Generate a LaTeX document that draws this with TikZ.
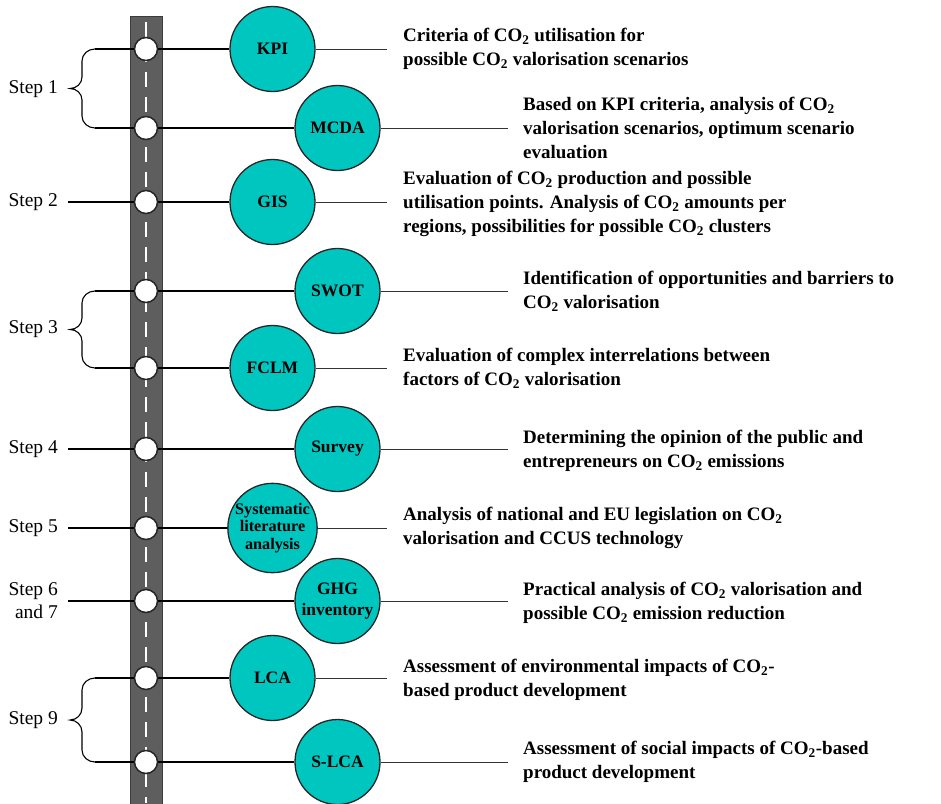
\documentclass[tikz,border=0pt]{standalone}
\usepackage{fontspec}
\setmainfont{Liberation Serif}
\usetikzlibrary{positioning}
\definecolor{tealfill}{RGB}{0,198,192}
\definecolor{roadgray}{RGB}{94,94,94}
\definecolor{roadedge}{RGB}{60,60,60}
\newcommand{\COtwo}{CO\textsubscript{2}}

\begin{document}
\begin{tikzpicture}[x=1pt,y=-1pt]
  \tikzstyle{tool}=[circle,draw=black!85,line width=1.3pt,fill=tealfill,minimum size=85pt,inner sep=0pt,align=center,font=\bfseries\fontsize{17.5}{21}\selectfont]
  \tikzstyle{stop}=[circle,draw=black!85,line width=1.5pt,fill=white,minimum size=23pt,inner sep=0pt]
  \tikzstyle{desc}=[anchor=west,align=left,inner sep=0pt,font=\bfseries\fontsize{19}{23.8}\selectfont]
  \tikzstyle{steplbl}=[anchor=east,align=right,inner sep=0pt,font=\fontsize{19.5}{23}\selectfont]
  \tikzstyle{conn}=[line width=2pt]
  \tikzstyle{lead}=[line width=0.9pt,draw=black!80]
  \tikzstyle{brace}=[line width=1.1pt]
  \useasboundingbox (0,0) rectangle (941,803);
  % road
  \fill[roadgray,draw=roadedge,line width=1pt] (130,16) rectangle (162,806);
  \draw[white,line width=1.6pt,dash pattern=on 15pt off 10pt] (146,22) -- (146,803);
  % stops on the road
  \node[stop] (s1) at (146,49) {};
  \node[stop] (s2) at (146,128) {};
  \node[stop] (s3) at (146,202) {};
  \node[stop] (s4) at (146,291) {};
  \node[stop] (s5) at (146,368) {};
  \node[stop] (s6) at (146,449) {};
  \node[stop] (s7) at (146,528) {};
  \node[stop] (s8) at (146,601) {};
  \node[stop] (s9) at (146,678) {};
  \node[stop] (s10) at (146,762) {};
  % methods
  \node[tool] (kpi) at (272.5,49) {KPI};
  \node[tool] (mcda) at (337.5,128) {MCDA};
  \node[tool] (gis) at (272.5,202) {GIS};
  \node[tool] (swot) at (337.5,291) {SWOT};
  \node[tool] (fclm) at (272.5,368) {FCLM};
  \node[tool] (survey) at (337.5,449) {Survey};
  \node[tool,font=\bfseries\fontsize{16.2}{17.2}\selectfont] (slr) at (272.5,528) {Systematic\\literature\\analysis};
  \node[tool] (ghg) at (337.5,601) {GHG\\inventory};
  \node[tool] (lca) at (272.5,678) {LCA};
  \node[tool] (slca) at (337.5,762) {S-LCA};
  % descriptions
  \node[desc] (dkpi) at (403,49) {Criteria of \COtwo{} utilisation for\\possible \COtwo{} valorisation scenarios};
  \node[desc] (dmcda) at (523,128) {Based on KPI criteria, analysis of \COtwo\\valorisation scenarios, optimum scenario\\evaluation};
  \node[desc] (dgis) at (403,204) {Evaluation of \COtwo{} production and possible\\utilisation points. Analysis of \COtwo{} amounts per\\regions, possibilities for possible \COtwo{} clusters};
  \node[desc] (dswot) at (523,291) {Identification of opportunities and barriers to\\\COtwo{} valorisation};
  \node[desc] (dfclm) at (403,368) {Evaluation of complex interrelations between\\factors of \COtwo{} valorisation};
  \node[desc] (dsurvey) at (523,451) {Determining the opinion of the public and\\entrepreneurs on \COtwo{} emissions};
  \node[desc] (dslr) at (403,528) {Analysis of national and EU legislation on \COtwo\\valorisation and CCUS technology};
  \node[desc] (dghg) at (523,603) {Practical analysis of \COtwo{} valorisation and\\possible \COtwo{} emission reduction};
  \node[desc] (dlca) at (403,680) {Assessment of environmental impacts of \COtwo-\\based product development};
  \node[desc] (dslca) at (523,762) {Assessment of social impacts of \COtwo-based\\product development};
  % ends of the lead lines
  \coordinate (e1) at (387,49);
  \coordinate (e2) at (508,128);
  \coordinate (e3) at (387,202);
  \coordinate (e4) at (508,291);
  \coordinate (e5) at (387,368);
  \coordinate (e6) at (508,449);
  \coordinate (e7) at (387,528);
  \coordinate (e8) at (508,601);
  \coordinate (e9) at (387,678);
  \coordinate (e10) at (508,762);
  % step labels
  \node[steplbl] (st1) at (58,89) {Step 1};
  \node[steplbl] (st2) at (58,202) {Step 2};
  \node[steplbl] (st3) at (58,329.5) {Step 3};
  \node[steplbl] (st4) at (58,449) {Step 4};
  \node[steplbl] (st5) at (58,528) {Step 5};
  \node[steplbl] (st6) at (58,601) {Step 6\\and 7};
  \node[steplbl] (st9) at (58,720) {Step 9};
  \coordinate (l2) at (68,202);
  \coordinate (l4) at (68,449);
  \coordinate (l5) at (68,528);
  \coordinate (l6) at (68,601);
  % connectors
  \draw[conn] (s1) -- (kpi);
  \draw[conn] (s2) -- (mcda);
  \draw[conn] (s3) -- (gis);
  \draw[conn] (s4) -- (swot);
  \draw[conn] (s5) -- (fclm);
  \draw[conn] (s6) -- (survey);
  \draw[conn] (s7) -- (slr);
  \draw[conn] (s8) -- (ghg);
  \draw[conn] (s9) -- (lca);
  \draw[conn] (s10) -- (slca);
  \draw[lead] (kpi) -- (e1);
  \draw[lead] (mcda) -- (e2);
  \draw[lead] (gis) -- (e3);
  \draw[lead] (swot) -- (e4);
  \draw[lead] (fclm) -- (e5);
  \draw[lead] (survey) -- (e6);
  \draw[lead] (slr) -- (e7);
  \draw[lead] (ghg) -- (e8);
  \draw[lead] (lca) -- (e9);
  \draw[lead] (slca) -- (e10);
  \draw[conn] (l2) -- (s3);
  \draw[conn] (l4) -- (s6);
  \draw[conn] (l5) -- (s7);
  \draw[conn] (l6) -- (s8);
  % braces
  \draw[conn] (s1) -- (95,49);
  \draw[conn] (s2) -- (95,128);
  \draw[brace] (95,49) to[out=180,in=90] (82,61) -- (82,77) to[out=-90,in=0] (70,88.5)
    to[out=0,in=90] (82,100) -- (82,116) to[out=-90,in=180] (95,128);
  \draw[conn] (s4) -- (95,291);
  \draw[conn] (s5) -- (95,368);
  \draw[brace] (95,291) to[out=180,in=90] (82,303) -- (82,318) to[out=-90,in=0] (70,329.5)
    to[out=0,in=90] (82,341) -- (82,356) to[out=-90,in=180] (95,368);
  \draw[conn] (s9) -- (95,678);
  \draw[conn] (s10) -- (95,762);
  \draw[brace] (95,678) to[out=180,in=90] (82,690) -- (82,708) to[out=-90,in=0] (70,720)
    to[out=0,in=90] (82,732) -- (82,750) to[out=-90,in=180] (95,762);
\end{tikzpicture}
\end{document}
